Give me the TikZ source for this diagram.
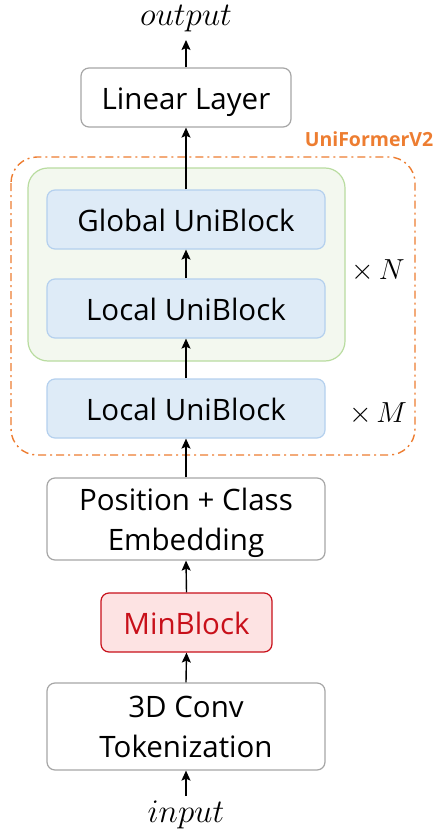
\documentclass[tikz,border=0pt]{standalone}
\usepackage{fix-cm}
\usepackage{fontspec}
\setmainfont{Open Sans}
\usetikzlibrary{arrows.meta}
\definecolor{boxgray}{HTML}{A6A6A6}
\definecolor{blkfill}{HTML}{DEEBF7}
\definecolor{blkdraw}{HTML}{B4D0EE}
\definecolor{grpfill}{HTML}{F3F8EF}
\definecolor{grpdraw}{HTML}{B9DCA0}
\definecolor{minfill}{HTML}{FDE3E3}
\definecolor{mindraw}{HTML}{C8101A}
\definecolor{uniorange}{HTML}{ED7D31}
\begin{document}
\begin{tikzpicture}[x=1pt,y=-1pt,
  boxfont/.style={font=\fontsize{29.5}{40}\selectfont},
  oneline/.style={text height=23.5pt,text depth=0pt},
  twoline/.style={text height=62.5pt,text depth=0pt},
  plainbox/.style={draw=boxgray,line width=1.2pt,fill=white,rounded corners=8pt,
    align=center,boxfont,inner sep=0pt},
  uniblock/.style={draw=blkdraw,line width=1.2pt,fill=blkfill,rounded corners=8pt,
    minimum width=278pt,minimum height=59pt,boxfont,oneline,inner sep=0pt},
  flow/.style={-{Stealth[length=10pt,width=9pt,inset=2pt]},line width=1.4pt,black},
  mathlabel/.style={font=\fontsize{33}{37}\selectfont,inner sep=0pt,anchor=base},
  countlabel/.style={font=\fontsize{29}{33}\selectfont,inner sep=0pt,anchor=base}]
\useasboundingbox (0,0) rectangle (435,832);

% UniFormerV2 frame and the repeated group
\draw[uniorange,line width=1.4pt,rounded corners=26pt,
  dash pattern=on 8pt off 4pt on 2pt off 4pt] (11,157) rectangle (415,455);
\node[uniorange,font=\fontsize{19.5}{22}\selectfont\bfseries,inner sep=0pt] (uname) at (369,139) {UniFormerV2};
\draw[grpdraw,fill=grpfill,line width=1.2pt,rounded corners=20pt] (28,168) rectangle (345,361);

% blocks
\node[plainbox,oneline,minimum width=210pt,minimum height=59pt] (lin) at (186,97.5) {Linear Layer};
\node[uniblock] (glob) at (186,219.5) {Global UniBlock};
\node[uniblock] (loca) at (186,308.5) {Local UniBlock};
\node[uniblock] (locb) at (186,408.5) {Local UniBlock};
\node[plainbox,twoline,minimum width=278pt,minimum height=82pt] (pos) at (186,519) {Position + Class\\Embedding};
\node[plainbox,oneline,draw=mindraw,fill=minfill,text=mindraw,minimum width=171pt,minimum height=59pt] (minb) at (186.5,622.5) {MinBlock};
\node[plainbox,twoline,minimum width=278pt,minimum height=87pt] (conv) at (186,726.5) {3D Conv\\Tokenization};

% inputs, outputs and repetition counts
\node[mathlabel] (out) at (186,26) {$output$};
\node[mathlabel] (inp) at (186,822) {$input$};
\node[countlabel] (xn) at (378,279) {$\times\, N$};
\node[countlabel] (xm) at (378,422) {$\times\, M$};
\coordinate (outend) at (186,40);
\coordinate (inpend) at (186,796);

% data flow
\draw[flow] (inpend) -- (conv.south);
\draw[flow] (conv.north) -- (minb.south);
\draw[flow] (minb.north) -- (pos.south);
\draw[flow] (pos.north) -- (locb.south);
\draw[flow] (locb.north) -- (loca.south);
\draw[flow] (loca.north) -- (glob.south);
\draw[flow] (glob.north) -- (lin.south);
\draw[flow] (lin.north) -- (outend);
\end{tikzpicture}
\end{document}
